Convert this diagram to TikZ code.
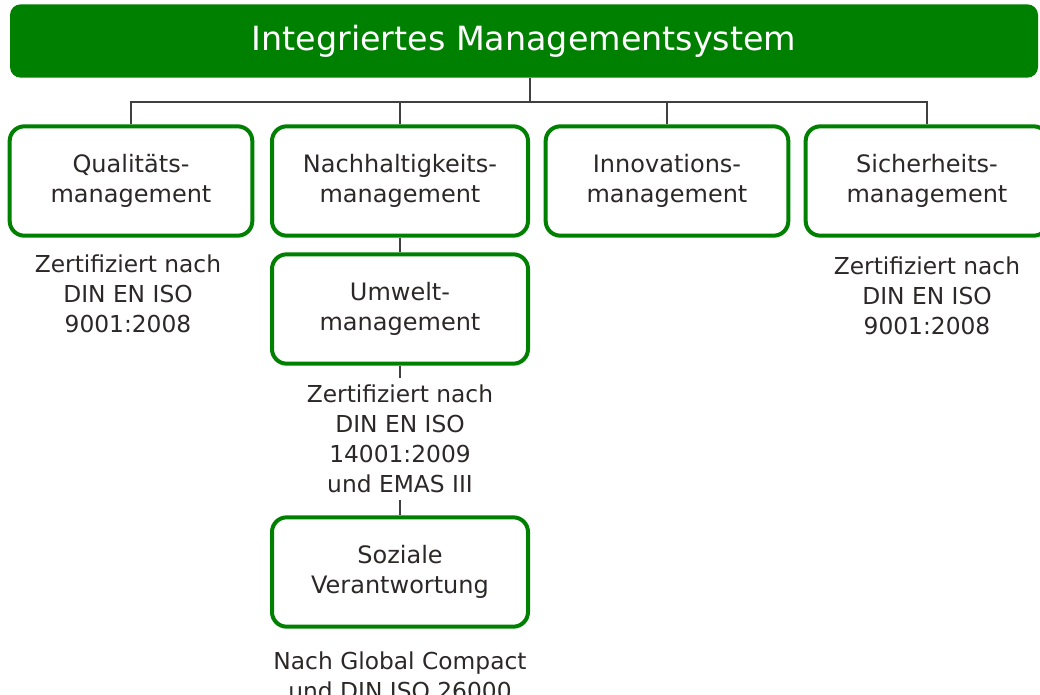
\documentclass[tikz,border=0pt]{standalone}
\usepackage{fontspec}
\setmainfont{DejaVu Sans}
\usetikzlibrary{positioning}

\definecolor{imsgreen}{RGB}{0,128,0}
\definecolor{imstext}{RGB}{45,40,40}

\tikzset{
  headbox/.style={fill=imsgreen, rounded corners=8pt, minimum width=771pt,
                  minimum height=55pt, text=white, font=\fontsize{25}{30}\selectfont},
  unitbox/.style={draw=imsgreen, line width=3pt, fill=white, rounded corners=11pt,
                  minimum width=182pt, minimum height=82pt, align=center,
                  text=imstext, font=\fontsize{18}{22.5}\selectfont},
  widebox/.style={unitbox, minimum width=192pt},
  note/.style={align=center, text=imstext, inner sep=5pt,
               font=\fontsize{17.5}{22.5}\selectfont},
  link/.style={draw=black!75, line width=1pt}
}

\begin{document}
\begin{tikzpicture}[x=0.75pt,y=-0.75pt]
  \useasboundingbox (0,0) rectangle (1040,694);

  % top of the tree
  \node[headbox] (ims) at (524,41) {Integriertes Managementsystem};
  \coordinate (bus) at (530,102);

  % the four systems
  \node[unitbox] (qm) at (131,181) {Qualitäts-\\management};
  \node[widebox] (nm) at (400,181) {Nachhaltigkeits-\\management};
  \node[unitbox] (im) at (667,181) {Innovations-\\management};
  \node[unitbox] (sm) at (927,181) {Sicherheits-\\management};

  % below sustainability
  \node[widebox] (um) at (400,309) {Umwelt-\\management};
  \node[note, below=9pt of um] (umnote)
       {Zertifiziert nach\\DIN EN ISO\\14001:2009\\und EMAS III};
  \node[widebox] (sv) at (400,572) {Soziale\\Verantwortung};

  % notes
  \node[note] (qmnote) at (128,294) {Zertifiziert nach\\DIN EN ISO\\9001:2008};
  \node[note] (smnote) at (927,296) {Zertifiziert nach\\DIN EN ISO\\9001:2008};
  \node[note] (svnote) at (400,676) {Nach Global Compact\\und DIN ISO 26000};

  % connectors
  \path[link] (ims.south -| bus) -- (bus);
  \path[link] (qm.north) |- (sm.north |- bus) -- (sm.north);
  \path[link] (nm.north) -- (nm.north |- bus);
  \path[link] (im.north) -- (im.north |- bus);
  \path[link] (nm.south) -- (um.north);
  \path[link] (um.south) -- (umnote.north);
  \path[link] (umnote.south) -- (sv.north);
\end{tikzpicture}
\end{document}
